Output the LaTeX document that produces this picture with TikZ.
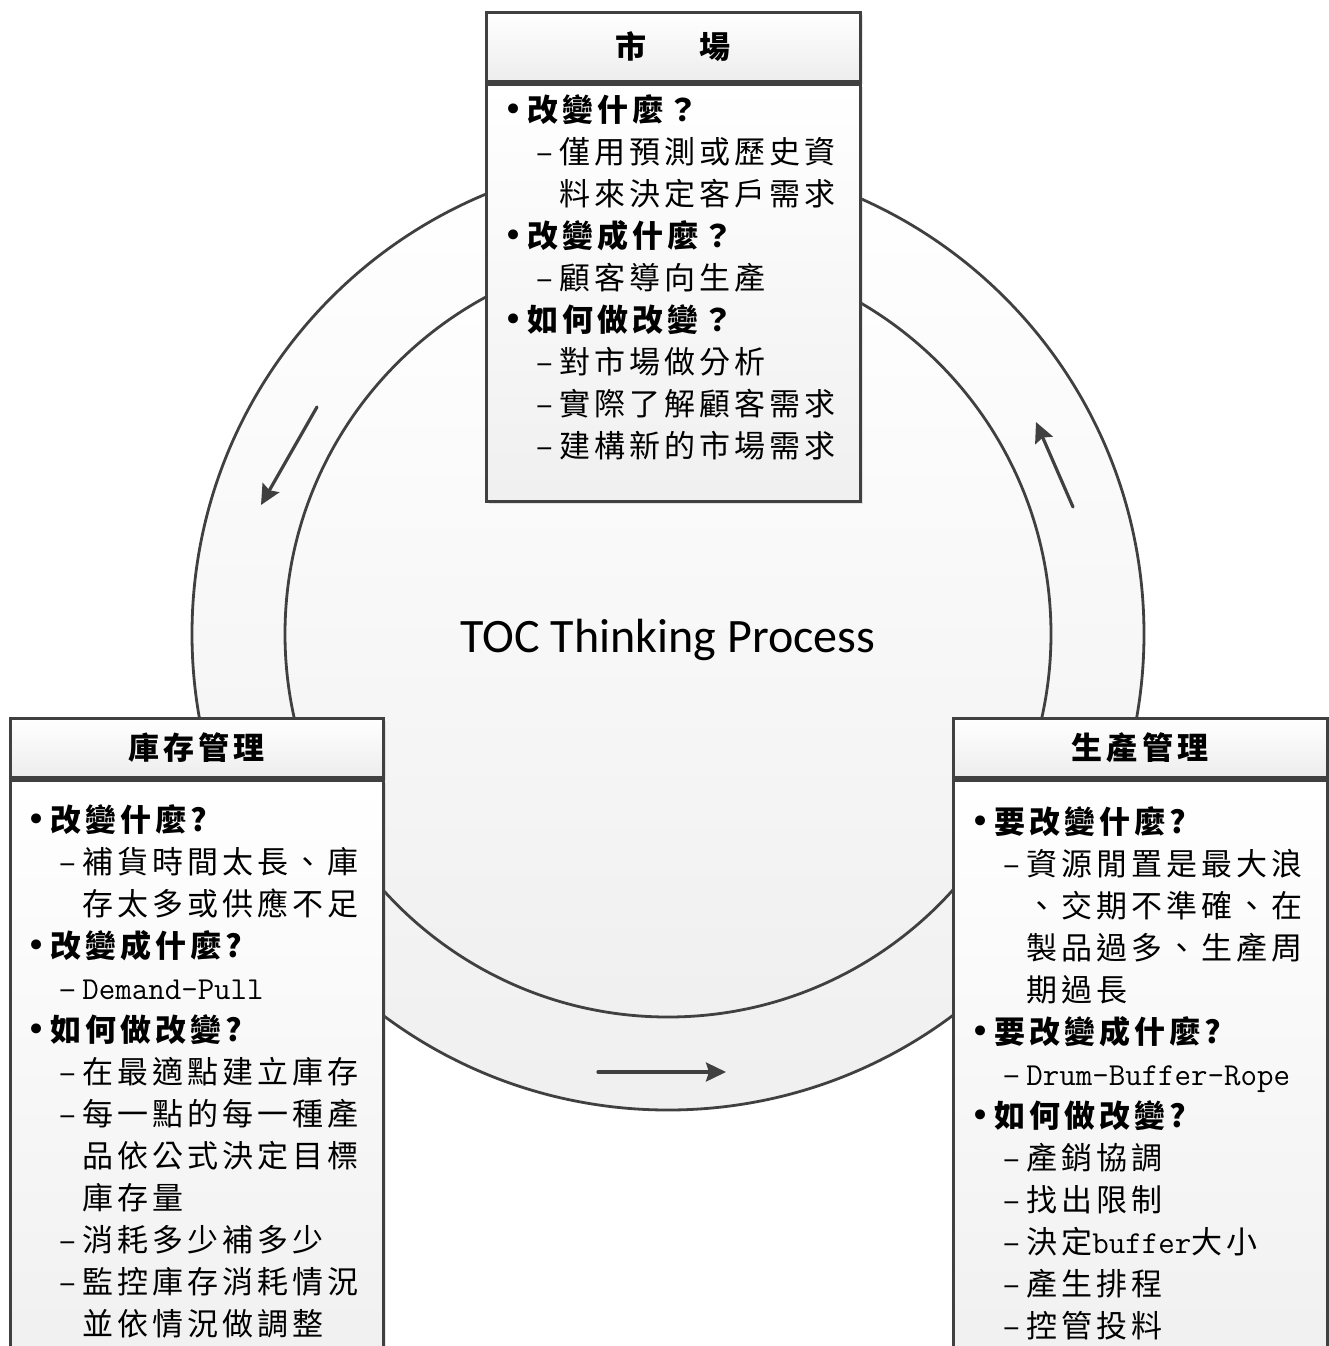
\documentclass[tikz,border=0pt]{standalone}
\usepackage{fontspec}
\setmainfont{Liberation Serif}
\newfontfamily\cjk[LetterSpace=13]{Noto Sans CJK TC}
\newfontfamily\sym{DejaVu Sans}
\newfontfamily\titlefont{Carlito}
\usetikzlibrary{arrows.meta,shadows}
\definecolor{lineK}{HTML}{404040}

% list lines: bullet item, dash item, continued line
\newcommand{\itemB}[1]{\makebox[12pt][l]{\sym\fontsize{17}{21}\selectfont •}\textbf{#1}}
\newcommand{\itemD}[1]{\hspace*{16.5pt}\makebox[11.5pt][l]{–}#1}
\newcommand{\itemC}[1]{\hspace*{28pt}#1}
\newcommand{\latin}[1]{{\ttfamily\fontsize{16}{21}\selectfont #1}}

\begin{document}
\begin{tikzpicture}[x=0.5pt,y=-0.5pt,
  ringline/.style={draw=lineK, line width=1.4pt, top color=white, bottom color=gray!12},
  headbox/.style={draw=lineK, line width=1.5pt, top color=white, bottom color=gray!14,
    drop shadow={shadow xshift=1.5pt, shadow yshift=-1.5pt, opacity=0.2},
    font=\cjk\bfseries\fontsize{15.5}{18}\selectfont, inner sep=0pt},
  bodybox/.style={draw=lineK, line width=1.5pt, top color=white, bottom color=gray!12,
    drop shadow={shadow xshift=1.5pt, shadow yshift=-1.5pt, opacity=0.2},
    inner sep=0pt, minimum width=187pt},
  listtext/.style={anchor=north west, align=left, inner sep=0pt,
    font=\cjk\fontsize{15.5}{21}\selectfont},
  turn/.style={draw=lineK, line width=1.6pt, line cap=round,
    -{Stealth[length=10pt, width=9.5pt, inset=1.5pt]}}]
\useasboundingbox (0,0) rectangle (1329,1346);
\clip (0,0) rectangle (1329,1346);

% the ring
\path[ringline] (668,634) circle[radius=238pt];
\path[ringline] (668,634) circle[radius=191.5pt];
\node[font=\titlefont\fontsize{24}{28}\selectfont] (title) at (668,640) {TOC Thinking Process};

% arrows round the ring
\coordinate (la1) at (317,407);
\coordinate (la2) at (261,505);
\coordinate (ba1) at (598,1072);
\coordinate (ba2) at (726,1072);
\coordinate (ra1) at (1073,507);
\coordinate (ra2) at (1036,422);
\draw[turn] (la1) -- (la2);
\draw[turn] (ba1) -- (ba2);
\draw[turn] (ra1) -- (ra2);

% market
\node[headbox, minimum width=187pt, minimum height=34.5pt] (mkthead) at (673,46.5) {市\hspace{27pt}場};
\node[bodybox, anchor=north, minimum height=208.5pt] (mktbody) at (mkthead.south) {};
\node[listtext] (mkttext) at (503,94) {
  \itemB{改變什麼？}\\
  \itemD{僅用預測或歷史資}\\
  \itemC{料來決定客戶需求}\\
  \itemB{改變成什麼？}\\
  \itemD{顧客導向生產}\\
  \itemB{如何做改變？}\\
  \itemD{對市場做分析}\\
  \itemD{實際了解顧客需求}\\
  \itemD{建構新的市場需求}};

% inventory
\node[headbox, minimum width=186.5pt, minimum height=29.5pt] (invhead) at (196.5,747.5) {庫存管理};
\node[bodybox, anchor=north, minimum width=186.5pt, minimum height=300pt] (invbody) at (invhead.south) {};
\node[listtext] (invtext) at (26,804) {
  \itemB{改變什麼?}\\
  \itemD{補貨時間太長、庫}\\
  \itemC{存太多或供應不足}\\
  \itemB{改變成什麼?}\\
  \itemD{\latin{Demand-Pull}}\\
  \itemB{如何做改變?}\\
  \itemD{在最適點建立庫存}\\
  \itemD{每一點的每一種產}\\
  \itemC{品依公式決定目標}\\
  \itemC{庫存量}\\
  \itemD{消耗多少補多少}\\
  \itemD{監控庫存消耗情況}\\
  \itemC{並依情況做調整}};

% production
\node[headbox, minimum width=187pt, minimum height=29.5pt] (prdhead) at (1140,747.5) {生產管理};
\node[bodybox, anchor=north, minimum height=300pt] (prdbody) at (prdhead.south) {};
\node[listtext] (prdtext) at (970,806) {
  \itemB{要改變什麼?}\\
  \itemD{資源閒置是最大浪}\\
  \itemC{、交期不準確、在}\\
  \itemC{製品過多、生產周}\\
  \itemC{期過長}\\
  \itemB{要改變成什麼?}\\
  \itemD{\latin{Drum-Buffer-Rope}}\\
  \itemB{如何做改變?}\\
  \itemD{產銷協調}\\
  \itemD{找出限制}\\
  \itemD{決定\latin{buffer}大小}\\
  \itemD{產生排程}\\
  \itemD{控管投料}};
\end{tikzpicture}
\end{document}
